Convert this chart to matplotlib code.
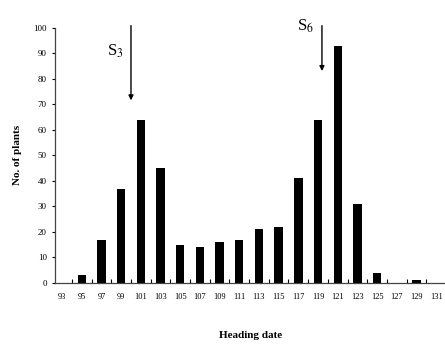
import matplotlib
matplotlib.use("Agg")
import matplotlib.pyplot as plt
import numpy as np

# heading date (days) and number of plants per class
dates = np.arange(93, 132, 2)
plants = [0, 3, 17, 37, 64, 45, 15, 14, 16, 17, 21, 22, 41, 64, 93, 31, 4, 0, 1, 0]

plt.rcParams['font.family'] = ['Liberation Serif', 'DejaVu Serif']
plt.rcParams['mathtext.fontset'] = 'stix'

fig = plt.figure(figsize=(4.45, 3.45), dpi=100, facecolor='white')
ax = fig.add_axes([0.124, 0.180, 0.876, 0.739])

ax.bar(dates, plants, width=0.85, color='black')

ax.set_xlim(92.3, 131.9)
ax.set_ylim(0, 100)
ax.set_xticks(dates)
ax.set_xticklabels([str(d) for d in dates], fontsize=6)
ax.set_xticks(dates[:-1] + 1, minor=True)
ax.tick_params(axis='x', which='major', length=0, pad=7)
ax.tick_params(axis='x', which='minor', length=3, direction='in', width=0.8)
ax.set_yticks(np.arange(0, 101, 10))
ax.tick_params(axis='y', labelsize=6.5, length=2, direction='out', width=0.8, pad=4)

for side in ['top', 'right']:
    ax.spines[side].set_visible(False)
for side in ['left', 'bottom']:
    ax.spines[side].set_linewidth(0.9)
    ax.spines[side].set_color('#444444')

ax.set_xlabel('Heading date', fontsize=8, fontweight='bold', labelpad=22)
ax.set_ylabel('No. of plants', fontsize=8, fontweight='bold', labelpad=8)

# selection points
arrow = dict(arrowstyle='-|>', color='black', lw=1, mutation_scale=7)
ax.annotate('', xy=(100, 70.5), xytext=(100, 102), arrowprops=arrow,
            annotation_clip=False)
ax.text(98.4, 91, r'S$_3$', fontsize=12, ha='center', va='center')
ax.annotate('', xy=(119.4, 82), xytext=(119.4, 102), arrowprops=arrow,
            annotation_clip=False)
ax.text(117.7, 100.5, r'S$_6$', fontsize=12, ha='center', va='center')

fig.savefig('out.png', dpi=100)
